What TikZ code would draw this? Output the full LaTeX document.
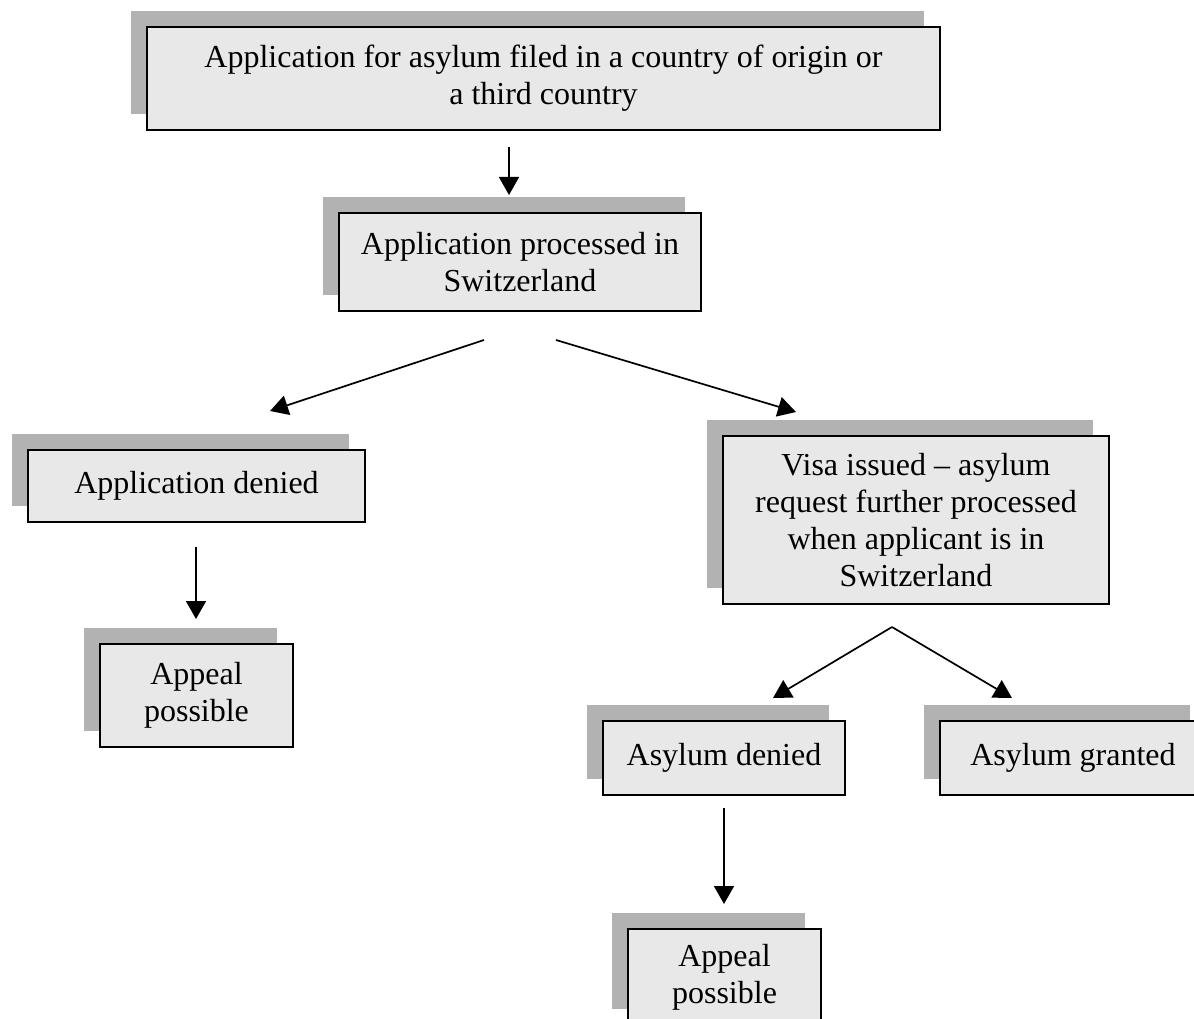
\documentclass[tikz,border=0pt]{standalone}
\usepackage{fontspec}
\setmainfont{Liberation Serif}
\usetikzlibrary{arrows.meta,shadows}

\definecolor{boxfill}{gray}{0.91}
\definecolor{shadowgray}{gray}{0.70}

\begin{document}
\begin{tikzpicture}[x=1pt,y=-1pt]

	\tikzstyle stage box=[draw, line width=2pt, fill=boxfill, inner sep=0pt, align=center, font=\fontsize{32}{37}\selectfont, drop shadow={shadow xshift=-16pt, shadow yshift=16pt, fill=shadowgray, opacity=1}];
	\tikzstyle flow lines=[line width=1.7pt, -{Triangle[length=18pt,width=20pt]}];

	\useasboundingbox (0,0) rectangle (1194,1019);

	% boxes
	\node[stage box, minimum width=793pt, minimum height=103pt] (filed) at (543.5,78.5)
		{Application for asylum filed in a country of origin or\\a third country};
	\node[stage box, minimum width=362pt, minimum height=98pt] (processed) at (520,262)
		{Application processed in\\Switzerland};
	\node[stage box, minimum width=337pt, minimum height=72pt] (app denied) at (196.5,486)
		{Application denied};
	\node[stage box, minimum width=193pt, minimum height=103pt] (appeal left) at (196.5,695.5)
		{Appeal\\possible};
	\node[stage box, minimum width=386pt, minimum height=168pt] (visa) at (916,520)
		{Visa issued -- asylum\\request further processed\\when applicant is in\\Switzerland};
	\node[stage box, minimum width=242pt, minimum height=74pt] (asy denied) at (724,758)
		{Asylum denied};
	\node[stage box, minimum width=266pt, minimum height=74pt] (asy granted) at (1073,758)
		{Asylum granted};
	\node[stage box, minimum width=193pt, minimum height=96pt] (appeal right) at (724.5,977)
		{Appeal\\possible};

	% arrow ends
	\coordinate (from filed) at (509,147);
	\coordinate (to processed) at (509,195);
	\coordinate (from processed l) at (484,340);
	\coordinate (from processed r) at (556,340);
	\coordinate (to app denied) at (270,411);
	\coordinate (to visa) at (796,412);
	\coordinate (from app denied) at (196,547);
	\coordinate (to appeal left) at (196,619);
	\coordinate (from visa) at (892,627);
	\coordinate (to asy denied) at (773,698);
	\coordinate (to asy granted) at (1012,698);
	\coordinate (from asy denied) at (724,808);
	\coordinate (to appeal right) at (724,904);

	\draw[flow lines] (from filed) -- (to processed);
	\draw[flow lines] (from processed l) -- (to app denied);
	\draw[flow lines] (from processed r) -- (to visa);
	\draw[flow lines] (from app denied) -- (to appeal left);
	\draw[flow lines] (from visa) -- (to asy denied);
	\draw[flow lines] (from visa) -- (to asy granted);
	\draw[flow lines] (from asy denied) -- (to appeal right);

\end{tikzpicture}
\end{document}
